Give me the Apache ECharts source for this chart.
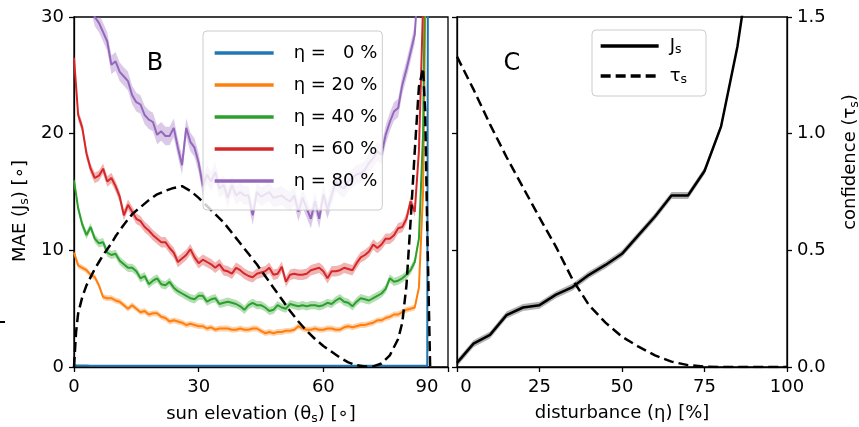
<!DOCTYPE html>
<html><head><meta charset="utf-8">
<script src="https://cdn.jsdelivr.net/npm/echarts@6/dist/echarts.min.js"></script>
<style>html,body{margin:0;padding:0;background:#fff}#c{width:859px;height:427px}</style>
</head><body><div id="c"></div><script>
const FONT = '"DejaVu Sans", sans-serif';

// ---------- Panel B data ----------
const sunElevation = [0,1,2,3,4,5,6,7,8,9,10,11,12,13,14,15,16,17,18,19,20,21,22,23,24,25,26,27,28,29,30,31,32,33,34,35,36,37,38,39,40,41,42,43,44,45,46,47,48,49,50,51,52,53,54,55,56,57,58,59,60,61,62,63,64,65,66,67,68,69,70,71,72,73,74,75,76,77,78,79,80,81,82,83,84,85,86];
const maeEta0 = [0.14,0.13,0.12,0.12,0.11,0.11,0.1,0.1,0.1,0.1,0.1,0.1,0.1,0.1,0.1,0.1,0.1,0.1,0.1,0.1,0.1,0.1,0.1,0.1,0.1,0.1,0.1,0.1,0.1,0.1,0.1,0.1,0.1,0.1,0.1,0.1,0.1,0.1,0.1,0.1,0.1,0.1,0.1,0.1,0.1,0.1,0.1,0.1,0.1,0.1,0.1,0.1,0.1,0.1,0.1,0.1,0.1,0.1,0.1,0.1,0.1,0.1,0.1,0.1,0.1,0.1,0.1,0.1,0.1,0.1,0.1,0.1,0.1,0.1,0.1,0.1,0.1,0.1,0.1,0.1,0.1,0.1,0.1,0.1,0.1,0.1,200];
const maeEta20 = [9.8,8.7,8.5,8.3,7.9,7.7,7.0,6.0,5.9,5.9,5.7,5.6,5.3,5.0,5.3,5.0,4.7,4.8,4.5,4.6,4.6,4.3,4.2,3.9,4.0,3.9,3.8,3.6,3.7,3.6,3.5,3.5,3.3,3.4,3.2,3.3,3.3,3.3,3.2,3.2,3.3,3.2,3.2,3.3,3.3,3.1,2.9,3.0,2.9,3.0,3.0,3.1,3.1,3.2,3.5,3.3,3.2,3.2,3.3,3.2,3.2,3.3,3.3,3.2,3.2,3.4,3.5,3.4,3.5,3.6,3.6,3.7,3.8,4.0,4.0,4.2,4.3,4.5,4.5,4.7,4.9,5.0,5.1,6.8,15,45,80];
const maeEta40 = [16.0,13.6,12.2,11.3,12.0,11.0,10.6,10.7,9.8,9.6,9.7,9.1,8.8,8.5,8.5,8.2,7.6,7.8,7.1,7.4,7.6,7.1,7.0,7.3,6.8,6.5,6.3,6.1,5.9,5.8,6.1,6.1,5.6,5.8,5.9,5.4,5.5,5.6,5.5,5.4,5.2,4.9,5.3,5.5,5.3,5.3,5.1,4.8,4.9,5.3,5.1,5.0,5.4,5.3,5.2,5.3,5.2,5.3,5.3,5.2,5.3,5.5,5.4,5.7,5.9,5.6,5.5,5.2,5.6,5.9,5.8,5.7,5.9,6.1,6.3,6.7,7.6,7.3,7.4,7.6,7.9,8.3,9.0,11.0,20,50,80];
const maeEta60 = [26.5,21.6,20.5,18.3,17.0,16.2,16.4,17.0,15.9,16.2,15.5,14.6,13.0,13.9,13.3,12.7,12.5,12.0,11.7,11.3,11.0,10.7,10.7,10.2,9.8,9.0,9.3,9.6,10.1,9.4,8.9,9.2,9.0,8.8,8.5,8.8,8.3,8.2,8.0,8.5,8.3,8.0,7.8,7.7,8.0,8.1,8.2,8.5,7.9,8.0,8.6,7.3,7.9,8.0,7.9,7.9,8.0,8.3,8.4,8.5,8.2,7.6,8.2,8.2,8.3,8.5,8.4,8.3,8.9,9.4,9.6,9.9,10.5,10.2,10.5,11.0,11.0,11.3,11.9,12.0,12.7,14.2,13.3,18.5,31,60,90];
const maeEta80 = [38,36,34.5,33,31.5,30.0,29.5,28.7,27.9,25.9,26.2,25.3,24.9,24.5,23.3,22.7,22.5,21.6,21.2,21.0,19.9,20.2,19.8,19.8,20.5,18.8,17.3,20.5,19.3,18.8,17.5,15.5,16.5,15.9,16.7,15.3,15.6,14.5,15.6,14.7,15.0,14.7,14.7,13.0,15.0,14.6,14.8,15.0,14.5,14.6,14.7,14.4,14.2,14.7,13.3,14.5,13.6,12.7,14.2,12.7,14.8,13.5,14.7,15.9,15.5,15.3,15.9,16.2,16.5,16.6,16.9,17.5,17.9,18.5,18.2,19.9,21.0,21.9,22.2,24.2,25.5,27.0,28.5,34,50,80,100];
const etaNames = ['η =   0 %','η = 20 %','η = 40 %','η = 60 %','η = 80 %'];
const distTheta = [0,0.5,1,2,3,4,5,6,7,8,9,10,12,14,16,18,20,22,24,26,28,30,32,34,36,38,40,42,44,46,48,50,52,54,56,58,60,62,64,66,68,70,72,74,76,78,79,80,81,82,83,84,84.5,85,85.7];
const distValue = [0,3.0,4.6,6.0,7.0,7.7,8.4,9.0,9.6,10.1,10.6,11.2,12.2,13.1,13.7,14.3,14.8,15.1,15.35,15.5,15.1,14.5,13.8,13.1,12.4,11.5,10.6,9.7,8.8,7.8,6.8,5.8,4.8,3.9,3.1,2.4,1.8,1.3,0.8,0.4,0.15,0.05,0.05,0.3,1.0,2.4,3.8,7.0,12.5,18.5,24,25.6,22,12,0];

// ---------- Panel C data ----------
const disturbance = [0,5,10,15,20,25,30,35,40,45,50,55,60,65,70,75,80,85,90,95,100];
const maeJs = [0.35,2.0,2.75,4.45,5.1,5.3,6.2,6.85,7.9,8.75,9.7,11.3,12.9,14.7,14.7,16.8,20.6,27.5,37,48,60];
const confTau = [1.33,1.19,1.04,0.90,0.77,0.64,0.515,0.375,0.265,0.19,0.13,0.087,0.05,0.023,0.008,0.002,0,0,0,0,0];

const xTicksB = [0,30,60,90];
const yTicksB = [0,10,20,30];
const xTicksC = [0,25,50,75,100];
const yTicksC = [0,0.5,1.0,1.5];

const colors = ['#1f77b4','#ff7f0e','#2ca02c','#d62728','#9467bd'];
const bandColors = ['rgba(31,119,180,0.35)','rgba(255,127,14,0.35)','rgba(44,160,44,0.35)','rgba(214,39,40,0.35)','rgba(148,103,189,0.35)'];
const bandHalf = [0.05,0.25,0.35,0.45,0.8];
const maeSets = [maeEta0, maeEta20, maeEta40, maeEta60, maeEta80];

function band(xs, ys, half, fill, xi, yi, name) {
  return {
    type: 'custom', name: name, xAxisIndex: xi, yAxisIndex: yi, clip: true, silent: true, z: 1,
    data: [[xs[0], ys[0]]],
    renderItem: function (params, api) {
      const up = [], lo = [];
      for (let i = 0; i < xs.length; i++) {
        up.push(api.coord([xs[i], ys[i] + half]));
        lo.push(api.coord([xs[i], ys[i] - half]));
      }
      return { type: 'polygon', shape: { points: up.concat(lo.reverse()) }, style: { fill: fill } };
    }
  };
}

const series = [];
maeSets.forEach(function (vals, i) {
  series.push(band(sunElevation, vals, bandHalf[i], bandColors[i], 0, 0, 'band' + i));
  series.push({
    type: 'line', name: etaNames[i], xAxisIndex: 0, yAxisIndex: 0, clip: true, silent: true, z: 2,
    data: sunElevation.map(function (t, j) { return [t, vals[j]]; }),
    symbol: 'none', lineStyle: { color: colors[i], width: 2 }, itemStyle: { color: colors[i] }
  });
});
series.push({
  type: 'line', name: 'dist', xAxisIndex: 0, yAxisIndex: 0, clip: true, silent: true, z: 3,
  data: distTheta.map(function (t, j) { return [t, distValue[j]]; }),
  symbol: 'none', lineStyle: { color: '#000', width: 2.5, type: [10, 5] }
});
series.push(band(disturbance, maeJs, 0.3, 'rgba(0,0,0,0.3)', 1, 1, 'bandJ'));
series.push({
  type: 'line', name: 'J', xAxisIndex: 1, yAxisIndex: 1, clip: true, silent: true, z: 2,
  data: disturbance.map(function (e, j) { return [e, maeJs[j]]; }),
  symbol: 'none', lineStyle: { color: '#000', width: 2.5 }, itemStyle: { color: '#000' }
});
series.push({
  type: 'line', name: 'tau', xAxisIndex: 1, yAxisIndex: 2, clip: true, silent: true, z: 2,
  data: disturbance.map(function (e, j) { return [e, confTau[j]]; }),
  symbol: 'none', lineStyle: { color: '#000', width: 2.5, type: [10, 5] }, itemStyle: { color: '#000' }
});

const lineCol = { color: '#000', width: 1.3 };
function axis(extra) {
  const base = {
    axisLine: { show: true, onZero: false, lineStyle: lineCol },
    axisTick: { show: true, inside: false, length: 5, lineStyle: lineCol },
    axisLabel: { color: '#000', fontSize: 18, fontFamily: FONT, margin: 10 },
    splitLine: { show: false }
  };
  const o = Object.assign({}, base, extra);
  if (extra.axisLabel) o.axisLabel = Object.assign({}, base.axisLabel, extra.axisLabel);
  return o;
}
const subRich = { s: { fontSize: 12.5, lineHeight: 12.5, verticalAlign: 'bottom', fontFamily: FONT, fill: '#000', color: '#000' } };

const option = {
  animation: false,
  backgroundColor: '#ffffff',
  grid: [
    { left: 74, top: 17, width: 374, height: 350, show: true, borderColor: '#000', borderWidth: 1.3, backgroundColor: 'transparent', outerBoundsMode: 'none', containLabel: false },
    { left: 457, top: 17, width: 330, height: 350, show: true, borderColor: '#000', borderWidth: 1.3, backgroundColor: 'transparent', outerBoundsMode: 'none', containLabel: false }
  ],
  xAxis: [
    axis({ type: 'value', gridIndex: 0, min: xTicksB[0], max: xTicksB[xTicksB.length - 1], interval: 30,
      axisLabel: { margin: 11, formatter: function (v) { return v === 90 ? '{r|90}' : String(v); },
        rich: { r: { padding: [0, 42, 0, 0], fontSize: 18, fontFamily: FONT, color: '#000' } } } }),
    axis({ type: 'value', gridIndex: 1, min: xTicksC[0], max: xTicksC[xTicksC.length - 1], interval: 25,
      axisLabel: { margin: 11, formatter: function (v) { return v === 0 ? '{r|0}' : String(v); },
        rich: { r: { padding: [0, 0, 0, 18], fontSize: 18, fontFamily: FONT, color: '#000' } } } })
  ],
  yAxis: [
    axis({ type: 'value', gridIndex: 0, min: yTicksB[0], max: yTicksB[yTicksB.length - 1], interval: 10 }),
    axis({ type: 'value', gridIndex: 1, min: 0, max: 30, interval: 10, axisLabel: { show: false } }),
    axis({ type: 'value', gridIndex: 1, position: 'right', min: yTicksC[0], max: yTicksC[yTicksC.length - 1], interval: 0.5,
      axisLabel: { formatter: function (v) { return v.toFixed(1); } } })
  ],
  legend: [
    { data: etaNames, orient: 'vertical', left: 203, top: 31, padding: [12, 5, 19, 10],
      itemWidth: 59, itemHeight: 2, itemGap: 12, selectedMode: false,
      backgroundColor: 'rgba(255,255,255,0.8)', borderColor: '#cccccc', borderWidth: 1, borderRadius: 4,
      textStyle: { fontSize: 18, fontFamily: FONT, color: '#000', lineHeight: 20, padding: [0, 0, 0, 15] },
      itemStyle: { opacity: 0 }, lineStyle: { width: 3.3 }, z: 10 },
    { data: ['J', 'tau'], orient: 'vertical', left: 592, top: 30, padding: [6, 19, 10, 7],
      itemWidth: 58, itemHeight: 2, itemGap: 10, selectedMode: false,
      backgroundColor: 'rgba(255,255,255,0.8)', borderColor: '#cccccc', borderWidth: 1, borderRadius: 4,
      formatter: function (n) { return (n === 'J' ? 'J' : 'τ') + '{s|s}'; },
      textStyle: { fontSize: 18, fontFamily: FONT, color: '#000', lineHeight: 20, padding: [0, 0, 0, 6], rich: subRich },
      itemStyle: { opacity: 0 }, lineStyle: { width: 3.3 }, z: 10 }
  ],
  series: series,
  graphic: [
    { type: 'text', x: 155, y: 64, style: { text: 'B', fontSize: 24, fontFamily: FONT, fill: '#000', align: 'center', verticalAlign: 'middle' } },
    { type: 'text', x: 512, y: 64, style: { text: 'C', fontSize: 24, fontFamily: FONT, fill: '#000', align: 'center', verticalAlign: 'middle' } },
    { type: 'text', x: 261, y: 414, style: { text: 'sun elevation (θ{s|s}) [∘]', rich: subRich, lineHeight: 22, fontSize: 18, fontFamily: FONT, fill: '#000', align: 'center', verticalAlign: 'middle' } },
    { type: 'text', x: 622, y: 413, style: { text: 'disturbance (η) [%]', lineHeight: 22, fontSize: 18, fontFamily: FONT, fill: '#000', align: 'center', verticalAlign: 'middle' } },
    { type: 'text', x: 20, y: 211, rotation: Math.PI / 2, style: { text: 'MAE (J{s|s}) [∘]', rich: subRich, lineHeight: 22, fontSize: 18, fontFamily: FONT, fill: '#000', align: 'center', verticalAlign: 'middle' } },
    { type: 'text', x: 850, y: 162, rotation: Math.PI / 2, style: { text: 'confidence (τ{s|s})', rich: subRich, lineHeight: 22, fontSize: 18, fontFamily: FONT, fill: '#000', align: 'center', verticalAlign: 'middle' } },
    { type: 'rect', shape: { x: 0, y: 321, width: 5, height: 2 }, style: { fill: '#000' } }
  ]
};
const chart = echarts.init(document.getElementById('c'), null, { renderer: 'canvas' });
chart.setOption(option);
</script></body></html>
